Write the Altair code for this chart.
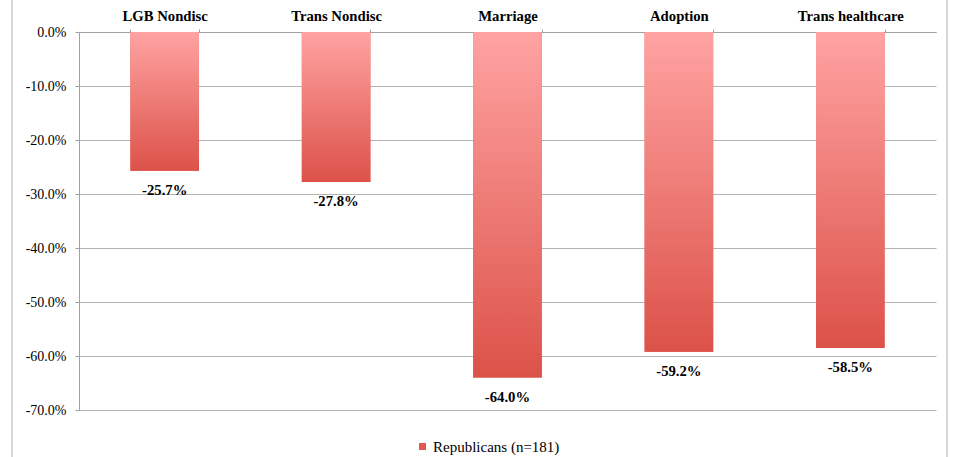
import altair as alt
import pandas as pd

categories = ["LGB Nondisc", "Trans Nondisc", "Marriage", "Adoption", "Trans healthcare"]
values = [-25.7, -27.8, -64.0, -59.2, -58.5]
labels = ["-25.7%", "-27.8%", "-64.0%", "-59.2%", "-58.5%"]
series = ["Republicans (n=181)"] * 5

df = pd.DataFrame({"cat": categories, "val": values, "lab": labels, "series": series})

SERIF = "Liberation Serif"

x_enc = alt.X(
    "cat:N",
    sort=categories,
    scale=alt.Scale(paddingInner=0.6, paddingOuter=0.3),
    axis=alt.Axis(
        orient="top", title=None, labelAngle=0, labelFont=SERIF, labelFontSize=14.7,
        labelFontWeight="bold", labelColor="#000000", labelPadding=6, labelAlign="center",
        tickBand="extent", tickSize=3, tickColor="#A0A0A0",
        domainColor="#A0A0A0", grid=False,
    ),
)
y_enc = alt.Y(
    "val:Q",
    scale=alt.Scale(domain=[-70, 0], nice=False),
    axis=alt.Axis(
        title=None, values=[0, -10, -20, -30, -40, -50, -60, -70],
        labelExpr="(datum.value < 0 ? '-' : '') + format(abs(datum.value), '.1f') + '%'",
        labelFont=SERIF, labelFontSize=14, labelColor="#000000", labelPadding=9,
        tickSize=4, tickColor="#A0A0A0", domainColor="#A0A0A0",
        gridColor="#B4B4B4", gridWidth=1.2,
    ),
)

base = alt.Chart(df)

legend_bars = base.mark_bar().encode(
    x=x_enc, y=y_enc,
    color=alt.Color(
        "series:N",
        scale=alt.Scale(range=["#E05A52"]),
        legend=alt.Legend(
            title=None, orient="none", legendX=336, legendY=407,
            symbolType="square", symbolSize=49, symbolStrokeWidth=0,
            labelFont=SERIF, labelFontSize=15, labelColor="#000000", labelOffset=3,
        ),
    ),
)

grad = alt.LinearGradient(
    gradient="linear",
    stops=[alt.GradientStop(color="#FFA3A2", offset=0), alt.GradientStop(color="#DC5249", offset=1)],
    x1=0, x2=0, y1=0, y2=1,
)
grad_bars = base.mark_bar(color=grad).encode(x=x_enc, y=y_enc)

text = base.mark_text(
    font=SERIF, fontSize=14.7, fontWeight="bold", color="#000000", dy=20, baseline="middle"
).encode(x=x_enc, y=y_enc, text="lab:N")

frame = alt.Chart(pd.DataFrame({"k": [0]})).mark_rule(color="#C8C8C8", strokeWidth=1.5).encode(
    x=alt.value(-67), y=alt.value(-40), y2=alt.value(430)
)
frame2 = alt.Chart(pd.DataFrame({"k": [0]})).mark_rule(color="#C8C8C8", strokeWidth=1.5).encode(
    x=alt.value(868), y=alt.value(-40), y2=alt.value(430)
)

chart = alt.layer(legend_bars, grad_bars, text, frame, frame2).properties(
    width=857, height=378,
    padding={"left": 79, "top": 32, "right": 22, "bottom": 47},
    autosize="none",
    background="#FFFFFF",
).configure_view(stroke=None)

chart.save("out.html", embed_options={"renderer": "svg", "actions": False})
